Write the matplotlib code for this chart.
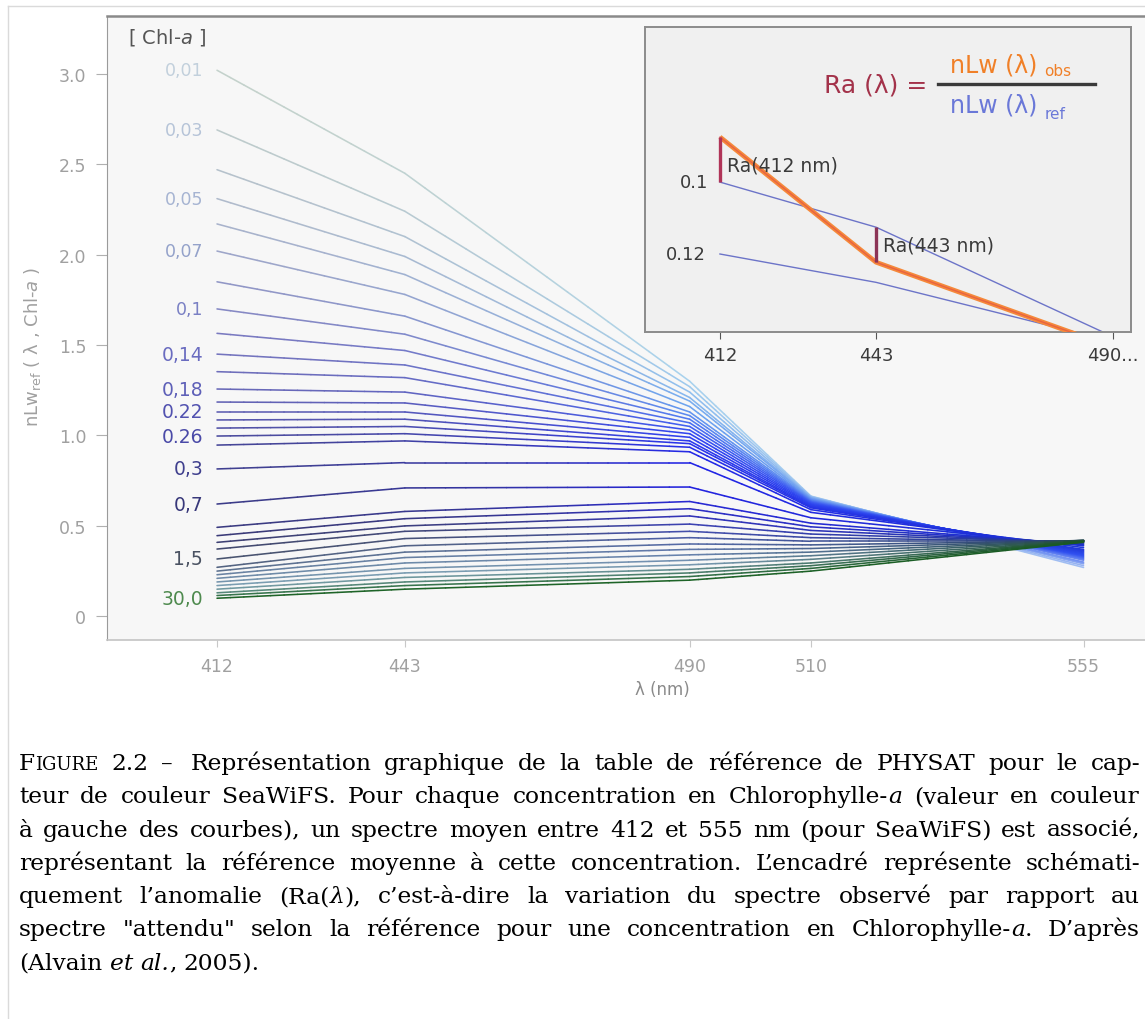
import numpy as np
import matplotlib
matplotlib.use('Agg')
import matplotlib.pyplot as plt
from matplotlib.collections import LineCollection
from matplotlib.colors import LinearSegmentedColormap
from matplotlib.lines import Line2D

# ---------------- data ----------------
wavelengths = [412, 443, 490, 510, 555]
nlw_412 = [3.02, 2.69, 2.47, 2.31, 2.17, 2.02, 1.85, 1.70, 1.565, 1.45, 1.353, 1.257,
           1.185, 1.13, 1.086, 1.041, 0.997, 0.947, 0.815, 0.621, 0.492, 0.446, 0.409,
           0.372, 0.317, 0.271, 0.25, 0.23, 0.21, 0.19, 0.17, 0.15, 0.13, 0.115, 0.10]
nlw_443 = [2.45, 2.24, 2.10, 1.99, 1.89, 1.78, 1.66, 1.56, 1.47, 1.39, 1.32, 1.24,
           1.18, 1.13, 1.09, 1.05, 1.01, 0.97, 0.85, 0.71, 0.58, 0.54, 0.50,
           0.47, 0.43, 0.39, 0.355, 0.325, 0.295, 0.265, 0.24, 0.215, 0.19, 0.17, 0.15]
nlw_490 = [1.30, 1.27, 1.24, 1.21, 1.19, 1.16, 1.13, 1.11, 1.09, 1.07, 1.05, 1.03,
           1.01, 0.99, 0.97, 0.955, 0.935, 0.91, 0.85, 0.715, 0.635, 0.595, 0.555,
           0.51, 0.47, 0.435, 0.40, 0.37, 0.34, 0.31, 0.285, 0.26, 0.24, 0.22, 0.20]
nlw_510 = [0.665, 0.663, 0.66, 0.657, 0.654, 0.65, 0.646, 0.642, 0.638, 0.634, 0.63, 0.625,
           0.62, 0.615, 0.61, 0.605, 0.60, 0.59, 0.575, 0.545, 0.515, 0.495, 0.475,
           0.455, 0.435, 0.415, 0.395, 0.375, 0.355, 0.335, 0.315, 0.295, 0.28, 0.265, 0.25]
nlw_555 = [0.27, 0.28, 0.29, 0.295, 0.30, 0.31, 0.315, 0.32, 0.325, 0.33, 0.335, 0.34,
           0.345, 0.35, 0.355, 0.36, 0.365, 0.37, 0.38, 0.39, 0.395, 0.40, 0.405,
           0.41, 0.412, 0.415, 0.418, 0.42, 0.42, 0.42, 0.418, 0.416, 0.414, 0.412, 0.41]

conc_labels = ['0,01', '0,03', '0,05', '0,07', '0,1', '0,14', '0,18', '0.22', '0.26',
               '0,3', '0,7', '1,5', '30,0']
conc_label_line = [0, 1, 3, 5, 7, 9, 11, 13, 16, 18, 19, 24, 34]
conc_label_colors = ['#c2d0dc', '#b6c4d8', '#a6b4d2', '#94a2ca', '#7a80c4', '#6a6cc0',
                     '#5e60b8', '#5252b0', '#4a4aa8', '#40408e', '#38387a', '#4a5262', '#4e8a4e']

xticks_main = [412, 443, 490, 510, 555]
yticks_main = [0, 0.5, 1.0, 1.5, 2.0, 2.5, 3.0]
ytick_labels = ['0', '0.5', '1.0', '1.5', '2.0', '2.5', '3.0']

inset_lambda = [412, 443, 490]
inset_ref_01 = [0.491, 0.343, -0.016]
inset_ref_012 = [0.255, 0.162, -0.032]
inset_obs = [0.639, 0.228, -0.051]
inset_ticks = [412, 443, 490]
inset_tick_labels = ['412', '443', '490...']

caption_lines = [
    [[("F", 'n', 'normal'), ("IGURE", 'sc', 'normal')], [("2.2", 'n', 'normal')], [("–\u2009", 'n', 'normal')],
     [("Représentation", 'n', 'normal')], [("graphique", 'n', 'normal')], [("de", 'n', 'normal')],
     [("la", 'n', 'normal')], [("table", 'n', 'normal')], [("de", 'n', 'normal')],
     [("référence", 'n', 'normal')], [("de", 'n', 'normal')], [("PHYSAT", 'n', 'normal')],
     [("pour", 'n', 'normal')], [("le", 'n', 'normal')], [("cap-", 'n', 'normal')]],
    "teur de couleur SeaWiFS. Pour chaque concentration en Chlorophylle-|a| (valeur en couleur",
    "à gauche des courbes), un spectre moyen entre 412 et 555 nm (pour SeaWiFS) est associé,",
    "représentant la référence moyenne à cette concentration. L’encadré représente schémati-",
    "quement l’anomalie (Ra(|λ|), c’est-à-dire la variation du spectre observé par rapport au",
    "spectre \"attendu\" selon la référence pour une concentration en Chlorophylle-|a|. D’après",
    "(Alvain |et| |al.|, 2005).",
]

# ---------------- figure ----------------
W, H = 1145, 1020
plt.rcParams['font.family'] = ['DejaVu Sans']
plt.rcParams['mathtext.fontset'] = 'dejavusans'

fig = plt.figure(figsize=(W / 100, H / 100), dpi=100)


def fx(px):
    return px / W


def fy(py):
    return 1 - py / H


# page frame
fig.add_artist(Line2D([fx(8), fx(8)], [0, fy(7)], transform=fig.transFigure, color='#dadada', lw=1))
fig.add_artist(Line2D([fx(8), 1], [fy(7), fy(7)], transform=fig.transFigure, color='#dadada', lw=1))

# main axes
px_per_nm = 6.06
x_left_px, x_right_px = 107, 1160
ax = fig.add_axes([fx(x_left_px), fy(641), (x_right_px - x_left_px) / W, fy(17) - fy(641)])
ax.set_facecolor('#f7f7f7')
ax.set_xlim(412 - (217 - x_left_px) / px_per_nm, 412 + (x_right_px - 217) / px_per_nm)
ax.set_ylim(-0.131, 3.32)
ax.spines['right'].set_visible(False)
ax.spines['top'].set_color('#8a8a8a')
ax.spines['top'].set_linewidth(1.8)
ax.spines['left'].set_color('#9a9a9a')
ax.spines['bottom'].set_color('#c4c4c4')
ax.spines['bottom'].set_linewidth(1.2)

ax.set_yticks(yticks_main)
ax.set_yticklabels(ytick_labels)
ax.set_xticks(xticks_main)
ax.set_xticklabels([str(v) for v in xticks_main])
ax.tick_params(axis='y', direction='out', length=8, color='#b0b0b0', labelcolor='#a0a0a0',
               labelsize=12.5, pad=7)
ax.tick_params(axis='x', direction='out', length=5, color='#c8c8c8', labelcolor='#a0a0a0',
               labelsize=12.5, pad=7)

# colour maps along the concentration index (style only)
cm_left = LinearSegmentedColormap.from_list('left', [
    (0.0, '#c4d2cc'), (0.12, '#a8b2cc'), (0.24, '#7878c0'), (0.40, '#5a5ab0'),
    (0.55, '#3c3c8c'), (0.62, '#3a3a78'), (0.70, '#46506c'), (0.80, '#6a84a4'),
    (0.90, '#7ea2b4'), (1.0, '#1e6428')])
cm_mid = LinearSegmentedColormap.from_list('mid', [
    (0.0, '#a8d2ee'), (0.15, '#6aa2f0'), (0.35, '#3044f2'), (0.55, '#2020e4'),
    (0.65, '#3434b8'), (0.75, '#5064a4'), (0.88, '#7a9ab4'), (1.0, '#1e6428')])
cm_right = LinearSegmentedColormap.from_list('right', [
    (0.0, '#a0bcf2'), (0.3, '#3050f0'), (0.6, '#1a30d0'), (0.75, '#2a4070'),
    (0.9, '#1e5030'), (1.0, '#1a5a24')])


def color_at(lam, cl, cmid, cr):
    if lam <= 490:
        t = ((lam - 412) / 78.0) ** 2
        return cl * (1 - t) + cmid * t
    t = (lam - 490) / 65.0
    return cmid * (1 - t) + cr * t


series = list(zip(nlw_412, nlw_443, nlw_490, nlw_510, nlw_555))
n = len(series)
segs, cols = [], []
nsub = 14
for i, ys in enumerate(series):
    f = i / (n - 1)
    cl = np.array(cm_left(f)[:3])
    cmid = np.array(cm_mid(f)[:3])
    cr = np.array(cm_right(f)[:3])
    for k in range(len(wavelengths) - 1):
        t = np.linspace(0, 1, nsub + 1)
        xs = wavelengths[k] + (wavelengths[k + 1] - wavelengths[k]) * t
        yk = ys[k] + (ys[k + 1] - ys[k]) * t
        for j in range(nsub):
            xm = 0.5 * (xs[j] + xs[j + 1])
            segs.append([(xs[j], yk[j]), (xs[j + 1], yk[j + 1])])
            cols.append(tuple(np.clip(color_at(xm, cl, cmid, cr), 0, 1)))
lc = LineCollection(segs, colors=cols, linewidths=1.15, capstyle='round')
ax.add_collection(lc)

for k, (lab, idx, c) in enumerate(zip(conc_labels, conc_label_line, conc_label_colors)):
    ax.annotate(lab, xy=(wavelengths[0], nlw_412[idx]), xytext=(-14, 0),
                textcoords='offset pixels', ha='right', va='center',
                fontsize=12.5 if k < 5 else 13.5, color=c)

ax.text(fx(128), fy(38), '[ Chl-$a$ ]', transform=fig.transFigure, ha='left', va='center',
        fontsize=14, color='#555555')
fig.text(fx(662), fy(690), 'λ (nm)', ha='center', va='center', fontsize=12, color='#8a8a8a')
fig.text(fx(33), fy(347), 'nLw$_{\\mathrm{ref}}$ ( λ , Chl-$a$ )', rotation=90, ha='center',
         va='center', fontsize=13, color='#a0a0a0')

# ---------------- inset ----------------
axi = fig.add_axes([fx(645), fy(332.7), fx(1131) - fx(645), fy(28) - fy(332.7)], zorder=5)
axi.set_facecolor('#f0f0f0')
axi.set_xlim(412 - (720 - 645) / 5.04, 490 + (1131 - 1112.7) / 5.04)
axi.set_ylim(0, 1)
axi.set_yticks([])
axi.set_xticks(inset_ticks)
axi.set_xticklabels(inset_tick_labels)
axi.tick_params(axis='x', direction='out', length=5, color='#555555', labelcolor='#3a3a3a',
                labelsize=13, pad=5)
for s in axi.spines.values():
    s.set_color('#8c8c8c')
    s.set_linewidth(1.4)

axi.plot(inset_lambda, inset_ref_01, color='#6c74c8', lw=1.0)
axi.plot(inset_lambda, inset_ref_012, color='#6c74c8', lw=1.0)
axi.plot(inset_lambda, inset_obs, color='#f5893a', lw=3.4, solid_capstyle='butt', zorder=4)
axi.plot(inset_lambda, inset_obs, color='#e04a48', lw=1.0, alpha=0.6, zorder=5)
axi.vlines(inset_lambda[0], inset_ref_01[0], inset_obs[0], color='#b03458', lw=2.4, zorder=6)
axi.vlines(inset_lambda[1], inset_obs[1], inset_ref_01[1], color='#8c3456', lw=2.4, zorder=6)

axi.annotate('0.1', xy=(inset_lambda[0], inset_ref_01[0]), xytext=(-12, 0),
             textcoords='offset pixels', ha='right', va='center', fontsize=13, color='#3a3a3a')
axi.annotate('0.12', xy=(inset_lambda[0], inset_ref_012[0]), xytext=(-14, 0),
             textcoords='offset pixels', ha='right', va='center', fontsize=13, color='#3a3a3a')
axi.annotate('Ra(412 nm)', xy=(inset_lambda[0], 0.5 * (inset_ref_01[0] + inset_obs[0])),
             xytext=(7, -5), textcoords='offset pixels', ha='left', va='center',
             fontsize=13.5, color='#3a3a3a', zorder=7)
axi.annotate('Ra(443 nm)', xy=(inset_lambda[1], 0.5 * (inset_ref_01[1] + inset_obs[1])),
             xytext=(7, 0), textcoords='offset pixels', ha='left', va='center',
             fontsize=13.5, color='#3a3a3a', zorder=7)

# formula (figure-pixel placement, drawn with the inset)
axi.text(fx(927), fy(85), 'Ra (λ) =', transform=fig.transFigure, ha='right', va='center',
         fontsize=18, color='#a3324a')
axi.add_line(Line2D([fx(938), fx(1095)], [fy(85), fy(85)], transform=fig.transFigure,
                    color='#3a3a3a', lw=2.4))
num = axi.text(fx(950), fy(66), 'nLw (λ)', transform=fig.transFigure, ha='left', va='center',
               fontsize=17, color='#f08028')
axi.annotate('obs', xy=(1, 0), xycoords=num, xytext=(5, -1), textcoords='offset points',
             ha='left', va='bottom', fontsize=11, color='#f08028')
den = axi.text(fx(950), fy(106), 'nLw (λ)', transform=fig.transFigure, ha='left', va='center',
               fontsize=17, color='#6a78d8')
axi.annotate('ref', xy=(1, 0), xycoords=den, xytext=(5, -3), textcoords='offset points',
             ha='left', va='bottom', fontsize=11, color='#6a78d8')

# ---------------- caption (justified) ----------------
serif = ['DejaVu Serif']
base = 16.8
sizes = {'n': base, 'sc': base * 0.78}
renderer = fig.canvas.get_renderer()


def parse_line(s):
    words = []
    for w in s.split(' '):
        parts = w.split('|')
        runs = []
        for k, p in enumerate(parts):
            if p:
                runs.append((p, 'n', 'italic' if k % 2 == 1 else 'normal'))
        words.append(runs)
    return words


def run_width(txt, size, style):
    t = fig.text(0, 0, txt, fontsize=size, family=serif, style=style)
    w = t.get_window_extent(renderer).width
    t.remove()
    return w


left_px, right_px = 19, 1140
baseline0, lead = 770, 33.3
for li, line in enumerate(caption_lines):
    words = line if isinstance(line, list) else parse_line(line)
    widths = [[run_width(r[0], sizes[r[1]], r[2]) for r in w] for w in words]
    tot = sum(sum(w) for w in widths)
    space = 0.32 * base * 100 / 72
    if li < len(caption_lines) - 1:
        gap = (right_px - left_px - tot) / (len(words) - 1)
    else:
        gap = space
    x = left_px
    yb = baseline0 + li * lead
    for w, ws in zip(words, widths):
        for (txt, sz, st), rw in zip(w, ws):
            fig.text(fx(x), fy(yb), txt, fontsize=sizes[sz], family=serif, style=st,
                     ha='left', va='baseline', color='black')
            x += rw
        x += gap

fig.savefig('out.png', dpi=100)
